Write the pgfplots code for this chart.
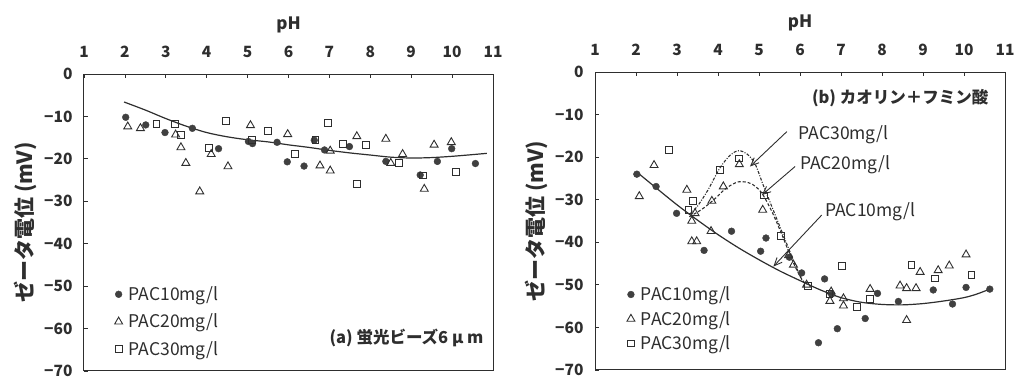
\documentclass[border=0pt]{standalone}
\usepackage{fontspec}
\setmainfont{Noto Sans CJK JP}
\usepackage{pgfplots}
\pgfplotsset{compat=1.18}
\usetikzlibrary{arrows.meta}
\definecolor{ink}{HTML}{2E2E2E}
\definecolor{dot}{HTML}{404040}
\pgfplotsset{
  zeta/.style={
    scale only axis,
    xmin=1, xmax=11, ymin=-70, ymax=0,
    xtick={1,...,11}, ytick={-70,-60,...,0},
    xticklabels={1,2,3,4,5,6,7,8,9,10,11},
    yticklabels={−70,−60,−50,−40,−30,−20,−10,0},
    xticklabel pos=upper, xtick pos=upper, ytick pos=left,
    tick align=inside, major tick length=4pt,
    axis line style={ink, line width=1pt},
    every tick/.style={ink, line width=0.8pt},
    ticklabel style={font=\fontsize{15.5}{16}\selectfont\bfseries, text=ink},
    xticklabel style={yshift=13pt},
    yticklabel style={xshift=-8pt},
    xlabel={pH},
    xlabel style={font=\fontsize{17}{18}\selectfont\bfseries, text=ink, yshift=6pt},
    ylabel={ゼータ電位 (mV)},
    ylabel style={font=\fontsize{21}{22}\selectfont\bfseries, text=ink, yshift=0pt},
    legend style={draw=none, fill=none, font=\fontsize{17.5}{18}\selectfont, text=ink,
      row sep=8pt, column sep=4pt, inner sep=1pt},
    legend cell align=left,
  },
  circ/.style={only marks, mark=*, mark size=3.4pt, mark options={fill=dot, draw=dot}},
  tri/.style={only marks, mark=triangle, mark size=4.6pt, mark options={draw=ink, line width=0.9pt}},
  sqr/.style={only marks, mark=square, mark size=3.4pt, mark options={draw=ink, line width=0.9pt}},
  fit/.style={no marks, ink, line width=1.2pt, smooth, tension=0.5, forget plot},
}
\begin{document}
\begin{tikzpicture}
\path[use as bounding box] (0pt,0pt) rectangle (1022pt,382pt);
% ---------------- panel (a)
\begin{axis}[zeta, at={(84pt,11pt)}, anchor=south west, width=409pt, height=297pt,
  legend style={at={(0.072,0.295)}, anchor=north west}]
\addplot[circ] coordinates {(2.02,-10.2) (2.51,-12.0) (2.98,-13.8) (3.65,-12.8) (4.29,-17.6) (5.02,-15.9) (5.12,-16.4) (5.72,-16.1) (5.97,-20.7) (6.38,-21.7) (6.63,-15.6) (6.88,-17.9) (7.49,-17.1) (8.38,-20.6) (9.22,-23.8) (9.64,-20.6) (9.99,-17.6) (10.57,-21.1)};
\addlegendentry{PAC10mg/l}
\addplot[tri] coordinates {(2.07,-12.4) (2.38,-12.8) (3.24,-14.3) (3.37,-17.3) (3.49,-21.0) (3.83,-27.7) (4.11,-18.9) (4.52,-21.8) (5.07,-12.1) (5.98,-14.2) (6.77,-21.6) (7.02,-22.8) (7.02,-18.1) (7.67,-14.7) (8.38,-15.3) (8.50,-21.0) (8.79,-18.9) (9.32,-27.1) (9.56,-16.7) (9.98,-16.1)};
\addlegendentry{PAC20mg/l}
\addplot[sqr] coordinates {(2.77,-11.8) (3.22,-11.8) (3.38,-14.3) (4.06,-17.5) (4.48,-11.0) (5.10,-15.5) (5.50,-13.5) (6.15,-18.9) (6.66,-15.5) (6.96,-11.6) (7.33,-16.5) (7.67,-25.9) (7.89,-16.7) (8.71,-21.0) (9.28,-23.9) (10.10,-23.1)};
\addlegendentry{PAC30mg/l}
\addplot[fit] coordinates {(1.98,-6.6) (2.5,-8.5) (3.0,-10.5) (3.5,-12.3) (4.0,-13.8) (4.5,-14.8) (5.0,-15.5) (5.5,-16.0) (6.0,-16.7) (6.5,-17.3) (7.0,-18.0) (7.5,-18.6) (8.0,-19.1) (8.5,-19.6) (9.0,-19.8) (9.5,-19.7) (10.0,-19.4) (10.5,-19.0) (10.85,-18.7)};
\node[anchor=east, font=\fontsize{16.5}{17}\selectfont\bfseries, text=ink] at (axis cs:10.85,-62.3) {(a) 蛍光ビーズ6 μ m};
\end{axis}
% ---------------- panel (b)
\begin{axis}[zeta, at={(595pt,12pt)}, anchor=south west, width=410pt, height=298pt,
  legend style={at={(0.075,0.29)}, anchor=north west, row sep=5pt}]
\addplot[circ] coordinates {(2.02,-24.0) (2.49,-26.9) (2.99,-33.2) (3.66,-41.9) (4.33,-37.4) (5.04,-42.1) (5.17,-39.0) (5.74,-43.5) (6.04,-47.2) (6.45,-63.6) (6.60,-48.6) (6.77,-52.2) (6.91,-60.3) (7.59,-57.9) (7.89,-52.0) (8.40,-53.9) (9.25,-51.2) (9.72,-54.5) (10.05,-50.6) (10.63,-51.0)};
\addlegendentry{PAC10mg/l}
\addplot[tri] coordinates {(2.08,-29.2) (2.44,-21.9) (3.24,-27.7) (3.36,-35.0) (3.36,-39.8) (3.48,-39.8) (3.44,-33.2) (3.85,-30.3) (3.83,-37.4) (4.13,-26.9) (4.52,-21.7) (5.09,-32.4) (5.72,-43.1) (5.84,-45.3) (6.16,-50.0) (6.76,-51.6) (6.73,-53.8) (7.06,-54.9) (7.06,-53.2) (7.71,-51.0) (8.44,-50.2) (8.60,-50.8) (8.83,-50.8) (8.60,-58.3) (8.93,-47.0) (9.37,-46.6) (9.64,-45.5) (10.05,-42.9)};
\addlegendentry{PAC20mg/l}
\addplot[sqr] coordinates {(2.81,-18.4) (3.28,-32.4) (3.38,-30.3) (4.05,-23.1) (4.51,-20.3) (5.13,-29.0) (5.53,-38.6) (6.20,-50.3) (6.72,-52.2) (7.02,-45.5) (7.38,-55.1) (7.71,-53.4) (8.72,-45.3) (9.29,-48.5) (10.18,-47.7)};
\addlegendentry{PAC30mg/l}
\addplot[fit] coordinates {(2.02,-23.5) (2.5,-27.3) (3.0,-31.2) (3.5,-34.8) (4.0,-38.2) (4.5,-41.3) (5.0,-44.1) (5.5,-46.7) (6.0,-49.0) (6.5,-51.2) (7.0,-53.0) (7.5,-54.1) (8.0,-54.6) (8.5,-54.7) (9.0,-54.4) (9.5,-53.8) (10.0,-53.0) (10.3,-52.2) (10.63,-51.0)};
\addplot[fit, line width=1.1pt, dash pattern=on 3pt off 2pt] coordinates {(3.30,-34.0) (3.6,-32.3) (3.9,-30.0) (4.2,-27.3) (4.5,-25.8) (4.8,-26.2) (5.05,-28.2) (5.3,-32.5) (5.55,-38.0) (5.8,-44.0) (6.0,-48.0) (6.15,-50.0)};
\addplot[fit, line width=1.1pt, dash pattern=on 3pt off 1.5pt on 1pt off 1.5pt] coordinates {(3.30,-33.5) (3.5,-31.5) (3.75,-27.8) (4.05,-22.5) (4.3,-19.5) (4.5,-18.5) (4.7,-19.2) (4.9,-21.5) (5.1,-26.5) (5.35,-32.5) (5.6,-38.5) (5.85,-44.5) (6.05,-49.0)};
\draw[ink, line width=0.9pt, -{Straight Barb[length=8pt,width=7pt]}] (axis cs:5.68,-14.0) -- (axis cs:4.78,-22.2);
\draw[ink, line width=0.9pt, -{Straight Barb[length=8pt,width=7pt]}] (axis cs:5.88,-22.2) -- (axis cs:5.07,-28.9);
\draw[ink, line width=0.9pt, -{Straight Barb[length=8pt,width=7pt]}] (axis cs:6.53,-33.6) -- (axis cs:5.35,-45.7);
\node[anchor=west, font=\fontsize{17.5}{18}\selectfont, text=ink] at (axis cs:5.88,-14.8) {PAC30mg/l};
\node[anchor=west, font=\fontsize{17.5}{18}\selectfont, text=ink] at (axis cs:5.92,-21.8) {PAC20mg/l};
\node[anchor=west, font=\fontsize{17.5}{18}\selectfont, text=ink] at (axis cs:6.53,-32.8) {PAC10mg/l};
\node[anchor=east, font=\fontsize{16.5}{17}\selectfont\bfseries, text=ink] at (axis cs:10.68,-6.1) {(b) カオリン＋フミン酸};
\end{axis}
\end{tikzpicture}
\end{document}
